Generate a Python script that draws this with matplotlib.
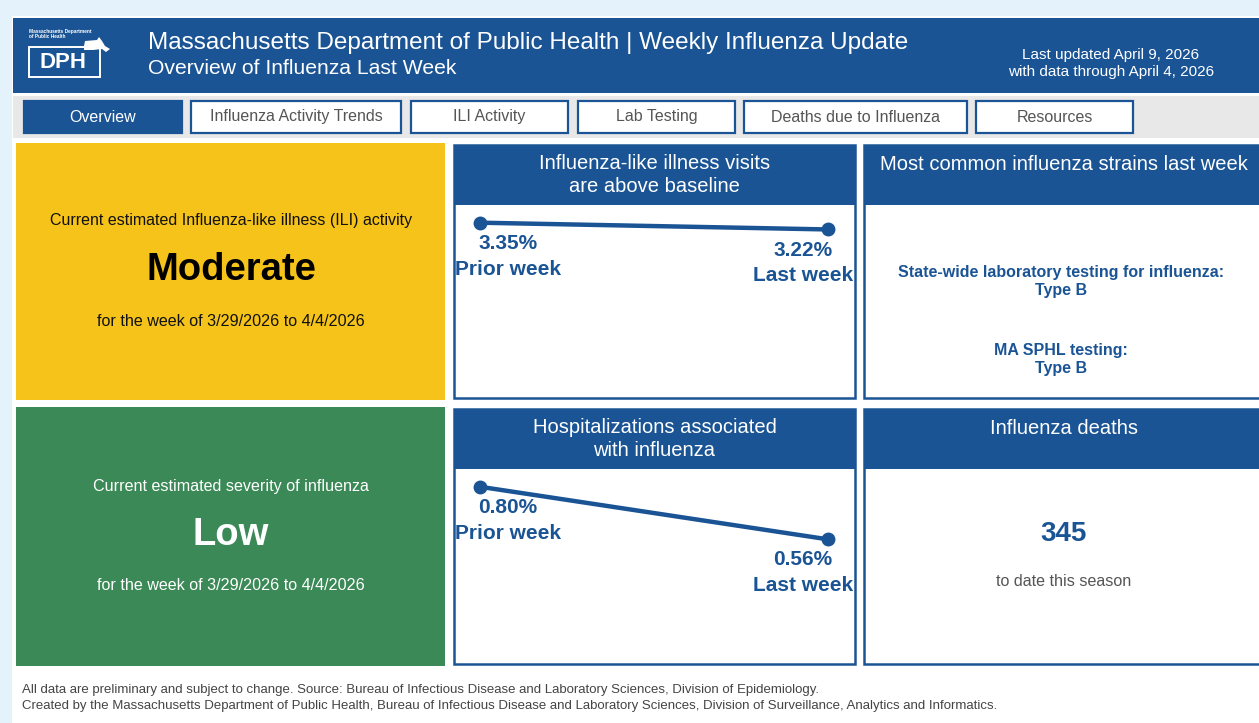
"""
Massachusetts DPH weekly influenza overview dashboard, redrawn with matplotlib.
Writes out.png (1259x723).
"""

import matplotlib

matplotlib.use("Agg")
import matplotlib.pyplot as plt
from matplotlib.patches import Rectangle, Polygon

plt.rcParams["font.family"] = ["Liberation Sans", "DejaVu Sans"]

# ---- data -----------------------------------------------------------------
week_labels = ["Prior week", "Last week"]
ili_values = [3.35, 3.22]          # % of visits for ILI
hosp_values = [0.80, 0.56]         # % of hospitalizations with influenza

tab_labels = ["Overview", "Influenza Activity Trends", "ILI Activity",
              "Lab Testing", "Deaths due to Influenza", "Resources"]

activity_level = "Moderate"
severity_level = "Low"
week_range = "for the week of 3/29/2026 to 4/4/2026"
statewide_strain = "Type B"
sphl_strain = "Type B"
deaths_to_date = 345

# ---- style ----------------------------------------------------------------
W, H = 1259, 723
BLUE = "#1A5494"
YELLOW = "#F5C319"
GREEN = "#3A8956"
GRAY_TXT = "#555555"

fig = plt.figure(figsize=(W / 100, H / 100), dpi=100)
fig.patch.set_facecolor("#E4F3FB")
ax = fig.add_axes([0, 0, 1, 1])
ax.set_xlim(0, W)
ax.set_ylim(H, 0)
ax.axis("off")


def box(x0, y0, x1, y1, fc, ec="none", lw=0, z=1):
    ax.add_patch(Rectangle((x0, y0), x1 - x0, y1 - y0, facecolor=fc,
                           edgecolor=ec, linewidth=lw, zorder=z))


# page background + header
box(12, 16, W, H, "white", z=0)
box(13, 18, W, 93, BLUE)

# logo (rough)
ax.text(29, 34, "Massachusetts Department\nof Public Health", color="white",
        fontsize=3.4, fontweight="bold", va="center", ha="left", linespacing=1.0)
box(29, 47, 100, 77, "none", ec="white", lw=1.4, z=2)
ax.text(63, 62, "DPH", color="white", fontsize=16, fontweight="bold",
        ha="center", va="center")
ax.add_patch(Polygon([(84, 46), (85, 41), (97, 40), (99, 37), (102, 41),
                      (105, 46), (110, 49), (106, 52), (102, 49), (93, 50), (84, 50)],
                     closed=True, facecolor="white", edgecolor="none", zorder=2))

ax.text(148, 43, "Massachusetts Department of Public Health | Weekly Influenza Update",
        color="white", fontsize=17.5, va="center", ha="left")
ax.text(148, 68, "Overview of Influenza Last Week", color="white",
        fontsize=15.2, va="center", ha="left")
ax.text(1111, 55, "Last updated April 9, 2026", color="white", fontsize=11,
        va="center", ha="center")
ax.text(1111, 72, "with data through April 4, 2026", color="white",
        fontsize=11, va="center", ha="center")

# tab bar
box(13, 96, W, 138, "#E8E8E8")
tab_edges = [(24, 182), (191, 401), (411, 568), (578, 735), (744, 967), (976, 1133)]
for i, (label, (x0, x1)) in enumerate(zip(tab_labels, tab_edges)):
    active = i == 0
    box(x0, 101, x1, 133, BLUE if active else "white", ec=BLUE, lw=1.6, z=2)
    ax.text((x0 + x1) / 2, 117, label, fontsize=11.5, ha="center", va="center",
            color="white" if active else GRAY_TXT, zorder=3)

# left status tiles
box(16, 143, 445, 400, YELLOW)
ax.text(231, 221, "Current estimated Influenza-like illness (ILI) activity",
        fontsize=11.5, ha="center", va="center", color="#111111")
ax.text(231, 270, activity_level, fontsize=27.5, fontweight="bold",
        ha="center", va="center", color="black")
ax.text(231, 321, week_range, fontsize=11.6, ha="center", va="center",
        color="#111111")

box(16, 407, 445, 666, GREEN)
ax.text(231, 486, "Current estimated severity of influenza", fontsize=11.6,
        ha="center", va="center", color="white")
ax.text(231, 535, severity_level, fontsize=27.5, fontweight="bold",
        ha="center", va="center", color="white")
ax.text(231, 585, week_range, fontsize=11.6, ha="center", va="center",
        color="white")


def card(x0, y0, x1, y1, head_h, title):
    box(x0, y0, x1, y1, "white", ec=BLUE, lw=1.8, z=1)
    box(x0, y0, x1, y0 + head_h, BLUE, z=2)
    cy = y0 + (30 if "\n" in title else 19)
    ax.text((x0 + x1) / 2, cy, title, color="white", fontsize=14.5,
            ha="center", va="center", linespacing=1.3, zorder=3)


card(454, 145, 855, 398, 60, "Influenza-like illness visits\nare above baseline")
card(454, 409, 855, 664, 60, "Hospitalizations associated\nwith influenza")
card(864, 145, W + 5, 398, 60, "Most common influenza strains last week")
card(864, 409, W + 5, 664, 60, "Influenza deaths")

# strains card body
ax.text(1061, 282, "State-wide laboratory testing for influenza:\n" + statewide_strain,
        fontsize=11.5, fontweight="bold", color=BLUE, ha="center", va="center",
        linespacing=1.25)
ax.text(1061, 359, "MA SPHL testing:\n" + sphl_strain, fontsize=11.5,
        fontweight="bold", color=BLUE, ha="center", va="center", linespacing=1.25)

# deaths card body
ax.text(1064, 534, f"{deaths_to_date}", fontsize=20, fontweight="bold",
        color=BLUE, ha="center", va="center")
ax.text(1064, 581, "to date this season", fontsize=11.6, color=GRAY_TXT,
        ha="center", va="center")


def slope_chart(x0, y0, x1, y1, values):
    """Two-point slope line inside a card body (pixel rect)."""
    sub = fig.add_axes([x0 / W, 1 - y1 / H, (x1 - x0) / W, (y1 - y0) / H])
    sub.set_facecolor("none")
    xs = list(range(len(values)))
    sub.plot(xs, values, color=BLUE, lw=3.2, marker="o", markersize=9,
             solid_capstyle="round", clip_on=False, zorder=3)
    sub.set_xlim(-0.072, 1.072)
    sub.set_ylim(0, max(values) * 1.09)
    for i, (v, lab) in enumerate(zip(values, week_labels)):
        first = i == 0
        sub.annotate(f"{v:.2f}%\n{lab}", (xs[i], v),
                     xytext=(-18 if first else 18, -8), textcoords="offset points",
                     ha="left" if first else "right", va="top",
                     multialignment="center", fontsize=15, fontweight="bold",
                     color=BLUE, linespacing=1.45, annotation_clip=False)
    sub.axis("off")


slope_chart(455, 207, 853, 397, ili_values)
slope_chart(455, 471, 853, 662, hosp_values)

# footer
ax.text(22, 690, "All data are preliminary and subject to change. Source: Bureau of "
        "Infectious Disease and Laboratory Sciences, Division of Epidemiology.",
        fontsize=9.5, color="#444444", ha="left", va="center")
ax.text(22, 706, "Created by the Massachusetts Department of Public Health, Bureau of "
        "Infectious Disease and Laboratory Sciences, Division of Surveillance, "
        "Analytics and Informatics.",
        fontsize=9.5, color="#444444", ha="left", va="center")

fig.savefig("out.png", dpi=100)
